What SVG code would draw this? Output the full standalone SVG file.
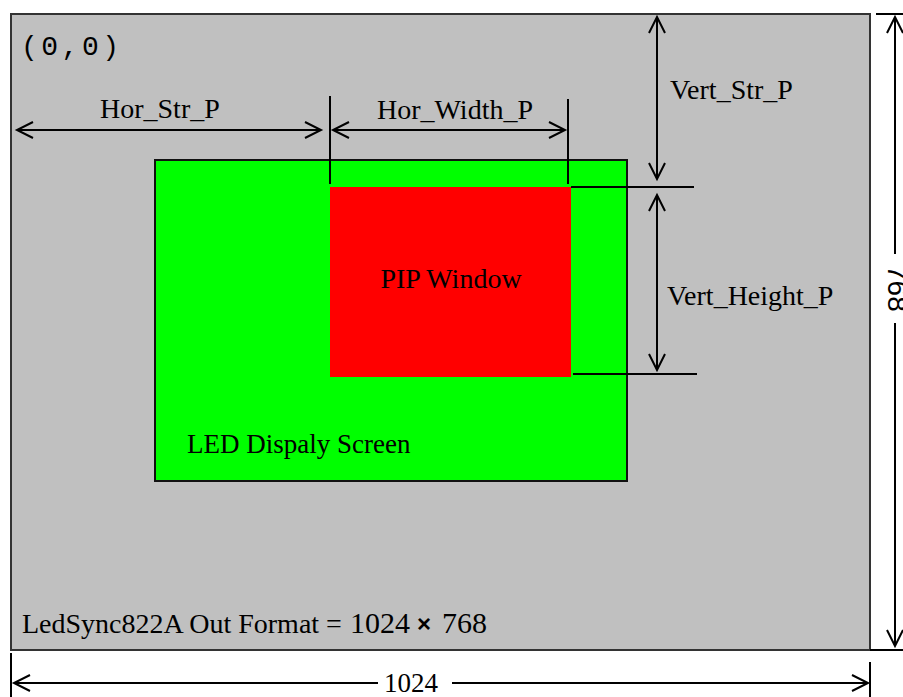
<svg xmlns="http://www.w3.org/2000/svg" width="903" height="697" viewBox="0 0 903 697">
<defs>
<style>
.t{font-family:"Liberation Serif","Times New Roman",serif;fill:#000}
.dim{stroke:#000;stroke-width:2;fill:none}
.ext{stroke:#000;stroke-width:2;fill:none}
</style>
<marker id="ah" markerUnits="userSpaceOnUse" markerWidth="24" markerHeight="20" viewBox="-18 -10 20 20" refX="0" refY="0" orient="auto-start-reverse">
<path d="M-16,-8 L0,0 L-16,8" fill="none" stroke="#000" stroke-width="2"/>
</marker>
</defs>
<rect width="903" height="697" fill="#fff"/>
<g id="output-frame">
<rect x="11" y="14" width="859" height="636" fill="#c0c0c0" stroke="#333" stroke-width="2"/>
<text x="21" y="55" font-family="'Liberation Mono',monospace" font-size="28" letter-spacing="3.5" fill="#000">(0,0)</text>
<text class="t" x="22" y="633" font-size="28">LedSync822A Out Format = </text>
<text class="t" x="350" y="633" font-size="30">1024</text>
<text x="417" y="632" font-family="'Liberation Sans',Arial,sans-serif" font-weight="bold" font-size="24" fill="#000">×</text>
<text class="t" x="442" y="633" font-size="30">768</text>
</g>
<g id="led-screen">
<rect x="155" y="160" width="472" height="321" fill="#00ff00" stroke="#111" stroke-width="2"/>
<text class="t" x="187" y="453" font-size="27">LED Dispaly Screen</text>
</g>
<g id="pip-window">
<rect x="330" y="187" width="241" height="190" fill="#ff0000"/>
<text class="t" x="451" y="288" font-size="28" text-anchor="middle">PIP Window</text>
</g>
<g id="connectors">
<line class="dim" x1="17" y1="130" x2="321" y2="130" marker-start="url(#ah)" marker-end="url(#ah)"/>
<line class="ext" x1="330" y1="96" x2="330" y2="184"/>
<line class="ext" x1="568" y1="99" x2="568" y2="184"/>
<line class="dim" x1="333" y1="130" x2="565" y2="130" marker-start="url(#ah)" marker-end="url(#ah)"/>
<line class="dim" x1="657" y1="17" x2="657" y2="179" marker-start="url(#ah)" marker-end="url(#ah)"/>
<line class="ext" x1="571" y1="187" x2="694" y2="187"/>
<line class="dim" x1="657" y1="195" x2="657" y2="370" marker-start="url(#ah)" marker-end="url(#ah)"/>
<line class="ext" x1="573" y1="374" x2="697" y2="374"/>
<line class="ext" x1="11" y1="653" x2="11" y2="697"/>
<line class="ext" x1="870" y1="662" x2="870" y2="697"/>
<line class="dim" x1="14" y1="683" x2="378" y2="683" marker-start="url(#ah)"/>
<line class="dim" x1="452" y1="683" x2="868" y2="683" marker-end="url(#ah)"/>
<line class="ext" x1="876" y1="14" x2="903" y2="14"/>
<line class="ext" x1="870" y1="650" x2="903" y2="650"/>
<line class="dim" x1="895" y1="17" x2="895" y2="254" marker-start="url(#ah)"/>
<line class="dim" x1="895" y1="323" x2="895" y2="646" marker-end="url(#ah)"/>
</g>
<g id="dim-labels">
<text class="t" x="100" y="118" font-size="28">Hor_Str_P</text>
<text class="t" x="377" y="119" font-size="28">Hor_Width_P</text>
<text class="t" x="670" y="99" font-size="28">Vert_Str_P</text>
<text class="t" x="667" y="305" font-size="28">Vert_Height_P</text>
<text class="t" x="384" y="692" font-size="27">1024</text>
<text x="0" y="0" transform="translate(888,265) rotate(90)" font-family="'Liberation Sans',Arial,sans-serif" font-size="28" fill="#000">768</text>
</g>
</svg>
